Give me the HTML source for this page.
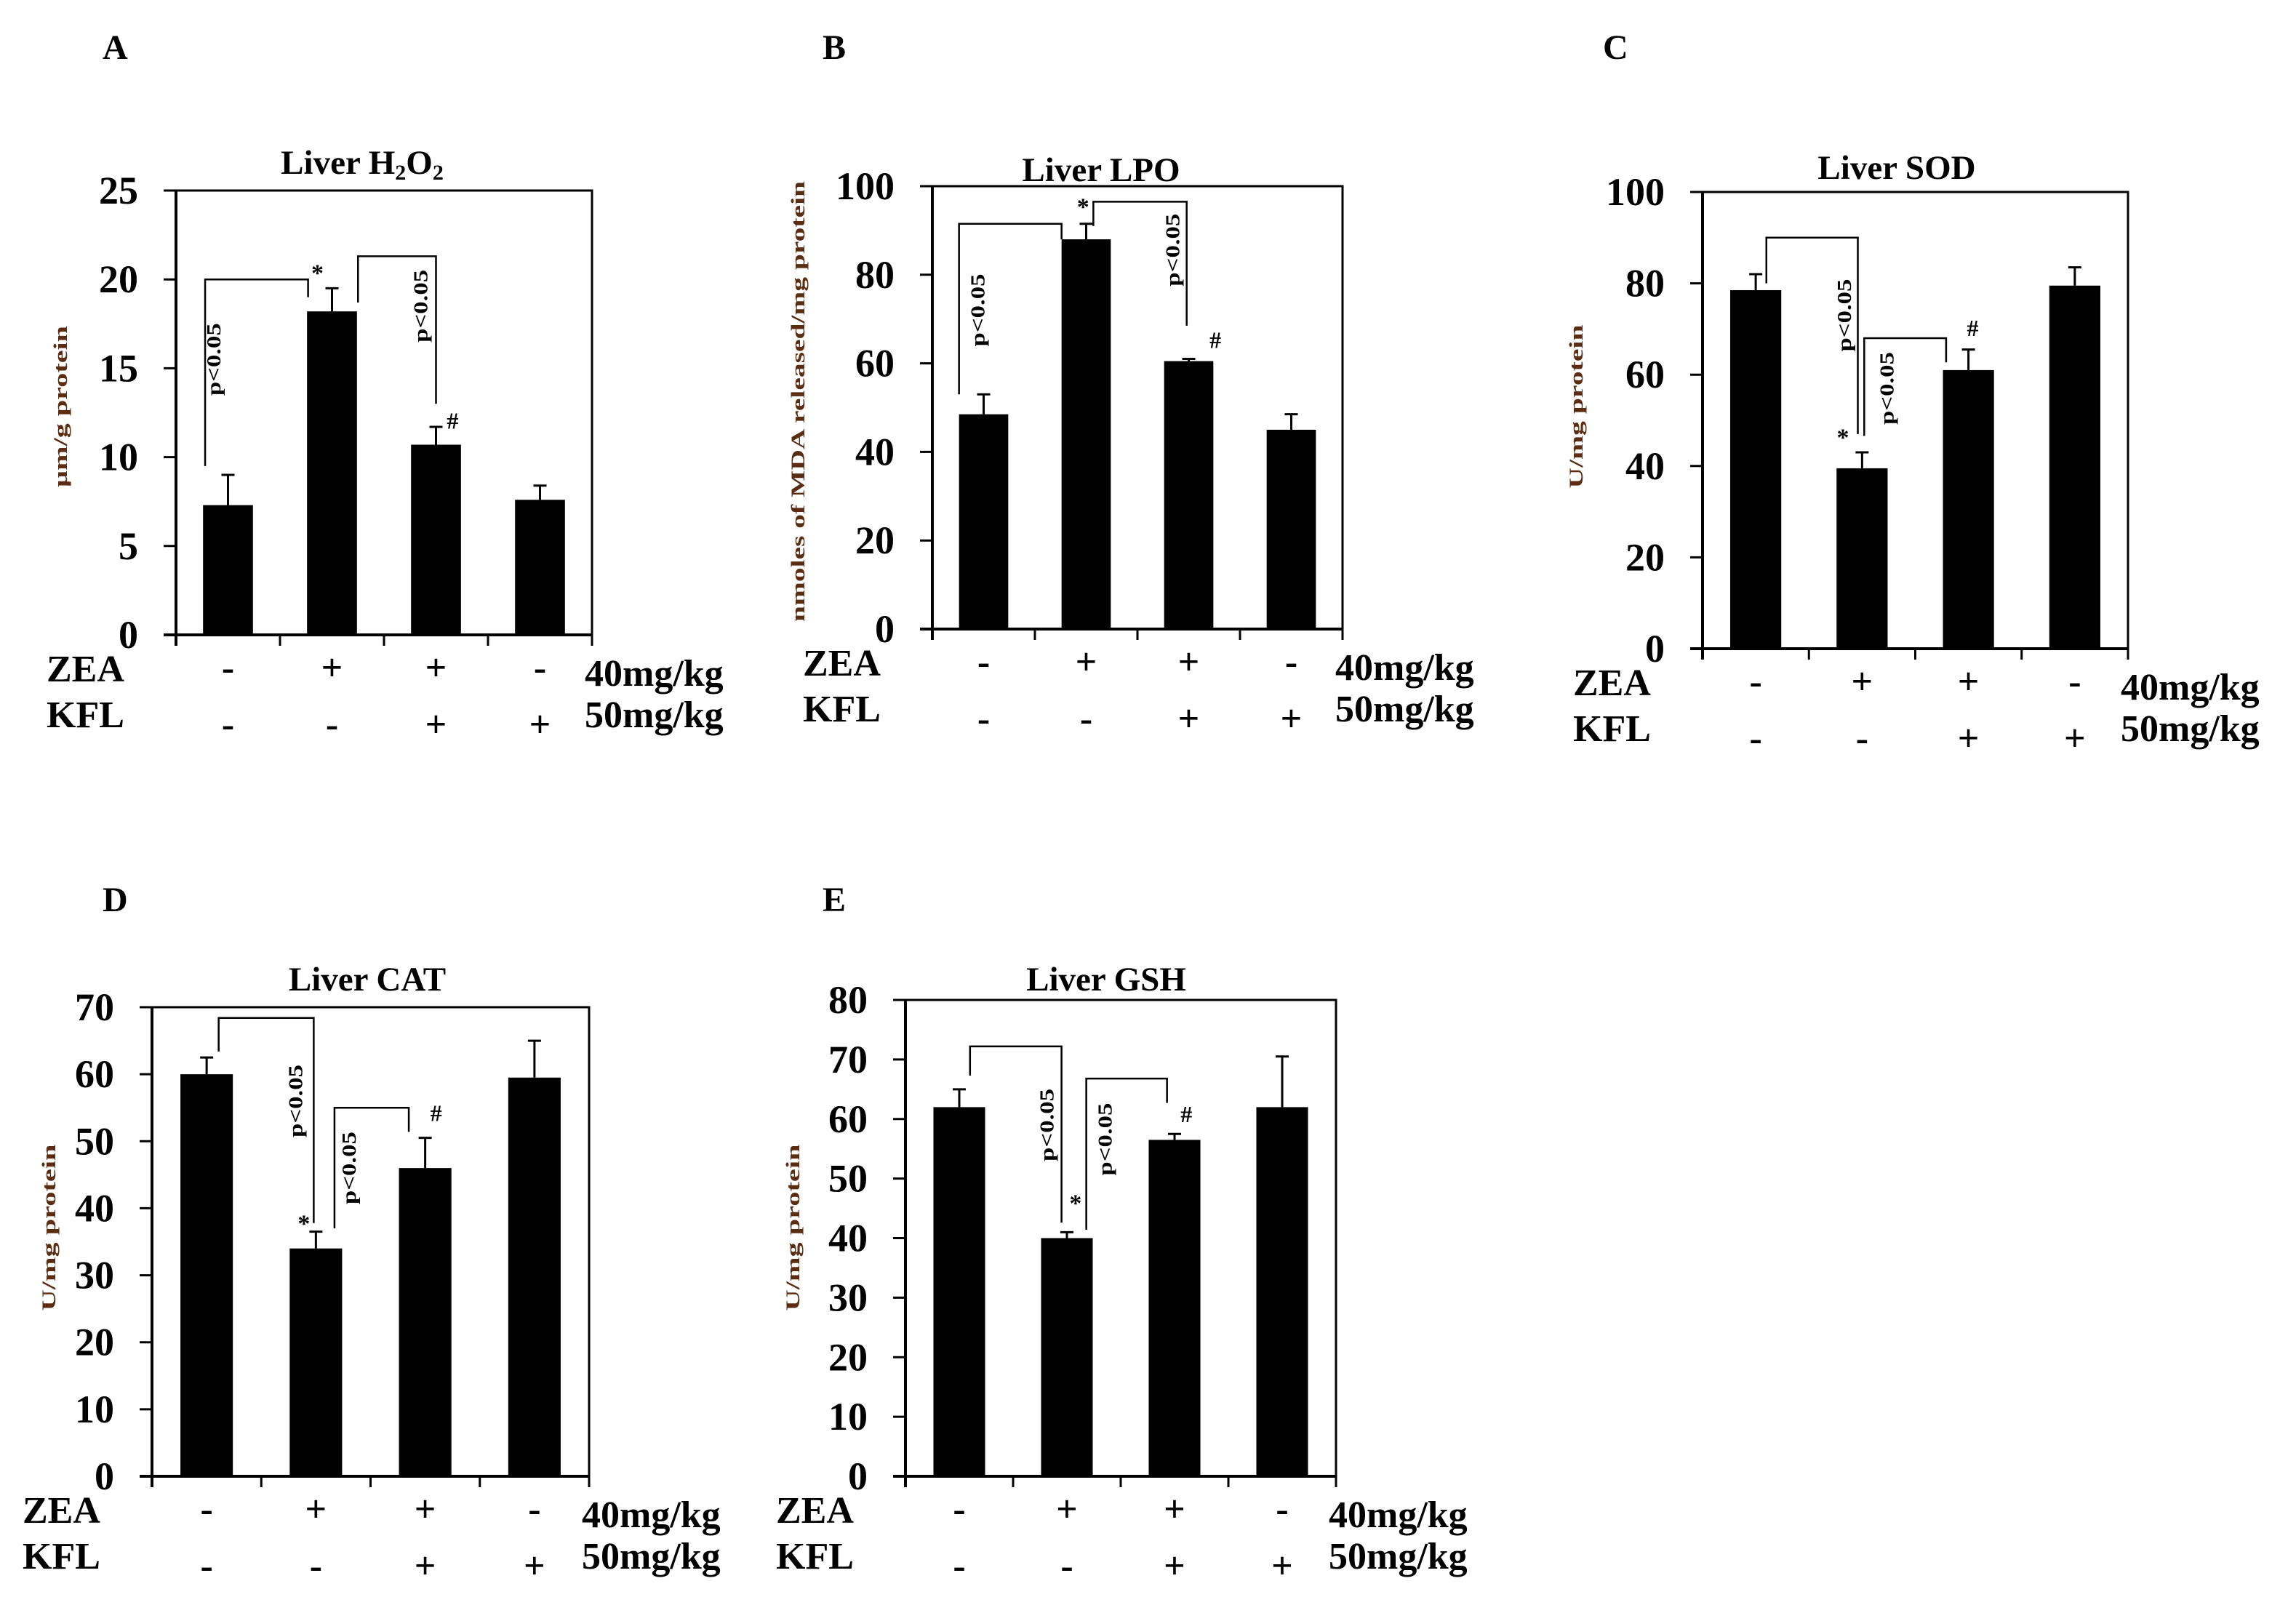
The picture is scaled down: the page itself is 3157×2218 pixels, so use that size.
<!DOCTYPE html>
<html>
<head>
<meta charset="utf-8">
<style>
html,body{margin:0;padding:0;background:#fff;}
svg{display:block;}
text{font-family:"Liberation Serif","Times New Roman",serif;font-weight:bold;fill:#000;}
</style>
</head>
<body>
<svg id="fig" width="3157" height="2218" viewBox="0 0 3157 2218" xmlns="http://www.w3.org/2000/svg"></svg>
<script>
// ---- shared data ----
const zeaSigns = ['-', '+', '+', '-'];
const kflSigns = ['-', '-', '+', '+'];

// ---- Panel A: Liver H2O2 ----
const h2o2Values = [7.3, 18.2, 10.7, 7.6];
const h2o2Errors = [1.7, 1.3, 1.0, 0.8];
const h2o2Ticks = [0, 5, 10, 15, 20, 25];

// ---- Panel B: Liver LPO ----
const lpoValues = [48.5, 88, 60.5, 45];
const lpoErrors = [4.5, 3.5, 0.5, 3.5];
const lpoTicks = [0, 20, 40, 60, 80, 100];

// ---- Panel C: Liver SOD ----
const sodValues = [78.5, 39.5, 61, 79.5];
const sodErrors = [3.5, 3.5, 4.5, 4];
const sodTicks = [0, 20, 40, 60, 80, 100];

// ---- Panel D: Liver CAT ----
const catValues = [60, 34, 46, 59.5];
const catErrors = [2.5, 2.5, 4.5, 5.5];
const catTicks = [0, 10, 20, 30, 40, 50, 60, 70];

// ---- Panel E: Liver GSH ----
const gshValues = [62, 40, 56.5, 62];
const gshErrors = [3, 1, 1, 8.5];
const gshTicks = [0, 10, 20, 30, 40, 50, 60, 70, 80];

// brackets: [xa, ya, xb, yb, ytop, labelX, labelY] (category units / values)
const h2o2Brackets = [[-0.22, 9.5, 0.77, 19, 20, -0.13, 15.5], [1.25, 18.7, 2.0, 13, 21.3, 1.86, 18.5]];
const lpoBrackets = [[-0.24, 53, 0.76, 88, 91.5, -0.05, 72], [1.07, 91, 1.98, 68.5, 96.5, 1.85, 85.6]];
const sodBrackets = [[0.1, 80, 0.96, 47, 90, 0.84, 73], [1.02, 46.6, 1.79, 62.7, 68, 1.24, 57]];
const catBrackets = [[0.11, 63.4, 0.98, 37.8, 68.4, 0.82, 56], [1.17, 37, 1.85, 51.4, 55, 1.31, 46]];
const gshBrackets = [[0.1, 67.3, 0.95, 42.6, 72.2, 0.82, 59], [1.18, 41.4, 1.93, 62.7, 66.8, 1.36, 56.6]];
// significance marks: [categoryPos, value]
const h2o2Star = [0.86, 19.9]; const h2o2Hash = [2.16, 11.6];
const lpoStar = [0.97, 93.5]; const lpoHash = [2.26, 63.5];
const sodStar = [0.82, 44.5]; const sodHash = [2.04, 68.5];
const catStar = [0.89, 36.5]; const catHash = [2.1, 53];
const gshStar = [1.08, 44.5]; const gshHash = [2.11, 59.5];

const NS = 'http://www.w3.org/2000/svg';
const svg = document.getElementById('fig');
function mk(tag, attrs, parent) {
  const el = document.createElementNS(NS, tag);
  for (const k in attrs) el.setAttribute(k, attrs[k]);
  if (tag === 'text') {
    el.setAttribute('font-family', 'Liberation Serif, Times New Roman, serif');
  }
  (parent || svg).appendChild(el);
  return el;
}

function drawPanel(cfg) {
  const g = mk('g', {});
  
  
  const {x0, top, x1, bottom} = cfg;
  const max = cfg.ticks[cfg.ticks.length - 1];
  const slot = (x1 - x0) / 4;
  const ys = v => bottom - v / max * (bottom - top);
  const xs = c => x0 + (c + 0.5) * slot;

  const L = mk('text', {x: cfg.letterX, y: cfg.letterY, 'font-size': 48}, g);
  L.textContent = cfg.letter;
  
  

  const T = mk('text', {x: cfg.titleX, y: cfg.titleY, 'font-size': 47, 'text-anchor': 'middle'}, g);
  
  
  if (cfg.h2o2) {
    T.appendChild(document.createTextNode('Liver H'));
    const s1 = mk('tspan', {'font-size': 30, dy: 8}, T); s1.textContent = '2';
    const o = mk('tspan', {dy: -8}, T); o.textContent = 'O';
    const s2 = mk('tspan', {'font-size': 30, dy: 8}, T); s2.textContent = '2';
  } else {
    T.textContent = cfg.title;
  }

  const frame = mk('path', {d: `M${x0},${top} H${x1} V${bottom}`, fill: 'none', stroke: '#000', 'stroke-width': 3}, g);
  
  
  const yAxis = mk('line', {x1: x0, y1: top, x2: x0, y2: bottom + 15, stroke: '#000', 'stroke-width': 4}, g);
  
  
  const xAxis = mk('line', {x1: x0 - 17, y1: bottom, x2: x1, y2: bottom, stroke: '#000', 'stroke-width': 4}, g);
  
  
  for (let i = 0; i <= 4; i++) {
    const tk = mk('line', {x1: x0 + i * slot, y1: bottom, x2: x0 + i * slot, y2: bottom + 15, stroke: '#000', 'stroke-width': 3}, g);
    
    
  }
  cfg.ticks.forEach(t => {
    const y = ys(t);
    const tk = mk('line', {x1: x0 - 17, y1: y, x2: x0, y2: y, stroke: '#000', 'stroke-width': 3}, g);
    
    
    const lb = mk('text', {x: x0 - 52, y: y + 18, 'font-size': 54, 'text-anchor': 'end'}, g);
    lb.textContent = t;
    
    
  });

  const yt = mk('text', {x: 0, y: 0, 'font-size': 26, 'text-anchor': 'middle', textLength: cfg.yTitleLen, lengthAdjust: 'spacingAndGlyphs',
    transform: `translate(${cfg.yTitleX},${cfg.yTitleY}) rotate(-90)`, style: 'fill:#5a2d12'}, g);
  yt.textContent = cfg.yTitle;
  
  

  const bw = slot * 0.48;
  cfg.values.forEach((v, i) => {
    const cx = xs(i);
    const b = mk('rect', {x: cx - bw / 2, y: ys(v), width: bw, height: bottom - ys(v), fill: '#000'}, g);
    
    
    const ey = ys(v + cfg.errors[i]);
    const e = mk('path', {d: `M${cx},${ys(v)} V${ey} M${cx - 9},${ey} H${cx + 9}`, stroke: '#000', 'stroke-width': 3, fill: 'none'}, g);
    
    
  });

  cfg.brackets.forEach(bk => {
    const [xa, ya, xb, yb, yt2, lx, ly] = bk;
    const p = mk('path', {d: `M${xs(xa)},${ys(ya)} V${ys(yt2)} H${xs(xb)} V${ys(yb)}`, stroke: '#000', 'stroke-width': 2.5, fill: 'none'}, g);
    
    
    const t = mk('text', {x: 0, y: 0, 'font-size': 27, 'text-anchor': 'middle', textLength: 100, lengthAdjust: 'spacingAndGlyphs',
      transform: `translate(${xs(lx) + 8},${ys(ly)}) rotate(-90)`}, g);
    t.textContent = 'p<0.05';
    
    
  });
  const st = mk('text', {x: xs(cfg.star[0]), y: ys(cfg.star[1]), 'font-size': 34, 'text-anchor': 'middle'}, g);
  st.textContent = '*';
  
  
  const hs = mk('text', {x: xs(cfg.hash[0]), y: ys(cfg.hash[1]), 'font-size': 32, 'text-anchor': 'middle'}, g);
  hs.textContent = '#';
  
  

  const zl = mk('text', {x: x0 - 178, y: bottom + 64, 'font-size': 52}, g);
  zl.textContent = 'ZEA';
  
  
  const kl = mk('text', {x: x0 - 178, y: bottom + 127, 'font-size': 52}, g);
  kl.textContent = 'KFL';
  
  
  const d1 = mk('text', {x: x1 - 10, y: bottom + 70, 'font-size': 52}, g);
  d1.textContent = '40mg/kg';
  
  
  const d2 = mk('text', {x: x1 - 10, y: bottom + 127, 'font-size': 52}, g);
  d2.textContent = '50mg/kg';
  
  
  zeaSigns.forEach((s, i) => {
    const t = mk('text', {x: xs(i), y: bottom + 62, 'font-size': 52, 'text-anchor': 'middle', 'font-weight': 'normal'}, g);
    t.textContent = s;
    
    
  });
  kflSigns.forEach((s, i) => {
    const t = mk('text', {x: xs(i), y: bottom + 140, 'font-size': 52, 'text-anchor': 'middle', 'font-weight': 'normal'}, g);
    t.textContent = s;
    
    
  });
}

drawPanel({id: 'h2o2', letter: 'A', letterX: 141, letterY: 81, h2o2: true, titleX: 498, titleY: 239,
  x0: 242, top: 262, x1: 814, bottom: 873, ticks: h2o2Ticks, values: h2o2Values, errors: h2o2Errors,
  yTitle: 'µm/g protein', yTitleX: 92, yTitleY: 559, yTitleLen: 222, brackets: h2o2Brackets, star: h2o2Star, hash: h2o2Hash});
drawPanel({id: 'lpo', letter: 'B', letterX: 1131, letterY: 81, title: 'Liver LPO', titleX: 1514, titleY: 249,
  x0: 1282, top: 256, x1: 1846, bottom: 865, ticks: lpoTicks, values: lpoValues, errors: lpoErrors,
  yTitle: 'nmoles of MDA released/mg protein', yTitleX: 1106, yTitleY: 552, yTitleLen: 606, brackets: lpoBrackets, star: lpoStar, hash: lpoHash});
drawPanel({id: 'sod', letter: 'C', letterX: 2204, letterY: 81, title: 'Liver SOD', titleX: 2608, titleY: 246,
  x0: 2341, top: 264, x1: 2926, bottom: 892, ticks: sodTicks, values: sodValues, errors: sodErrors,
  yTitle: 'U/mg protein', yTitleX: 2176, yTitleY: 559, yTitleLen: 225, brackets: sodBrackets, star: sodStar, hash: sodHash});
drawPanel({id: 'cat', letter: 'D', letterX: 141, letterY: 1253, title: 'Liver CAT', titleX: 505, titleY: 1362,
  x0: 209, top: 1385, x1: 810, bottom: 2030, ticks: catTicks, values: catValues, errors: catErrors,
  yTitle: 'U/mg protein', yTitleX: 76, yTitleY: 1688, yTitleLen: 229, brackets: catBrackets, star: catStar, hash: catHash});
drawPanel({id: 'gsh', letter: 'E', letterX: 1131, letterY: 1253, title: 'Liver GSH', titleX: 1521, titleY: 1362,
  x0: 1245, top: 1375, x1: 1837, bottom: 2030, ticks: gshTicks, values: gshValues, errors: gshErrors,
  yTitle: 'U/mg protein', yTitleX: 1099, yTitleY: 1688, yTitleLen: 229, brackets: gshBrackets, star: gshStar, hash: gshHash});
</script>
</body>
</html>
